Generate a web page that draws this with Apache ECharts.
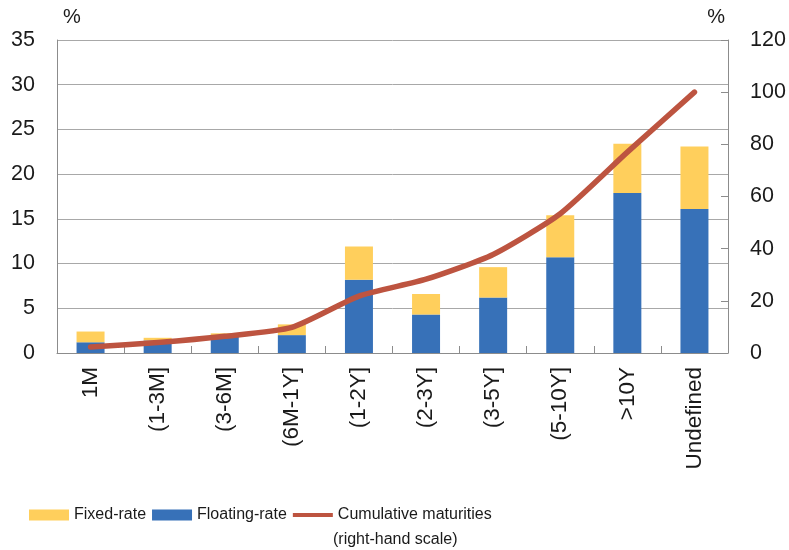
<!DOCTYPE html>
<html>
<head>
<meta charset="utf-8">
<script src="https://cdn.jsdelivr.net/npm/echarts@6/dist/echarts.min.js"></script>
<style>
  html, body { margin: 0; padding: 0; background: #ffffff; }
  #chart { width: 789px; height: 550px; }
</style>
</head>
<body>
<div id="chart"></div>
<script>
// Maturity buckets
const categories = ['1M', '(1-3M]', '(3-6M]', '(6M-1Y]', '(1-2Y]', '(2-3Y]', '(3-5Y]', '(5-10Y]', '>10Y', 'Undefined'];
// Share of total, % (left-hand scale)
const floatingRate = [1.2, 1.4, 1.9, 2.0, 8.2, 4.3, 6.2, 10.7, 17.9, 16.1];
const fixedRate = [1.2, 0.3, 0.3, 1.2, 3.7, 2.3, 3.4, 4.7, 5.5, 7.0];
// Cumulative maturities, % (right-hand scale)
const cumulative = [2.3, 4.0, 6.4, 9.8, 21.8, 28.3, 37.8, 53.4, 77.0, 100];
// Axis ranges
const leftTicks = { min: 0, max: 35, interval: 5 };
const rightTicks = { min: 0, max: 120, interval: 20 };

const FONT = '"Liberation Sans", Arial, sans-serif';
const TEXT = '#1a1a1a';
const AXIS = '#8c8c8c';
const GRID = '#a8a8a8';
const LINE_COLOR = '#bd5440';

const chart = echarts.init(document.getElementById('chart'), null, { renderer: 'canvas' });

chart.setOption({
  animation: false,
  backgroundColor: '#ffffff',
  textStyle: { fontFamily: FONT, color: TEXT },
  grid: { left: 57, right: 61, top: 40, bottom: 197, containLabel: false },
  legend: {
    left: 24,
    top: 502,
    itemWidth: 40,
    itemHeight: 11,
    itemGap: 6,
    textStyle: { fontFamily: FONT, fontSize: 16, color: TEXT },
    data: [
      { name: 'Fixed-rate', icon: 'rect' },
      { name: 'Floating-rate', icon: 'rect' },
      // thin bar standing in for the line swatch
      { name: 'Cumulative maturities', icon: 'path://M0,0 H40 V4 H0 Z', itemStyle: { color: LINE_COLOR } }
    ]
  },
  graphic: [
    {
      type: 'text',
      left: 333,
      top: 532,
      style: { text: '(right-hand scale)', font: '16px ' + FONT, fill: TEXT }
    }
  ],
  xAxis: {
    type: 'category',
    data: categories,
    boundaryGap: true,
    axisLine: { show: true, lineStyle: { color: AXIS, width: 1 } },
    axisTick: { show: true, inside: true, length: 7, alignWithLabel: false, lineStyle: { color: AXIS } },
    axisLabel: {
      rotate: 90,
      margin: 14,
      fontSize: 22.5,
      fontFamily: FONT,
      color: TEXT,
      interval: 0
    },
    splitLine: { show: false }
  },
  yAxis: [
    {
      type: 'value',
      position: 'left',
      min: leftTicks.min,
      max: leftTicks.max,
      interval: leftTicks.interval,
      name: '%',
      nameLocation: 'end',
      nameGap: 13,
      nameTextStyle: { fontFamily: FONT, fontSize: 20, color: TEXT, align: 'left', verticalAlign: 'bottom', padding: [0, 0, 0, 6] },
      axisLine: { show: true, lineStyle: { color: AXIS, width: 1 } },
      axisTick: { show: false },
      axisLabel: { margin: 22, fontSize: 21.5, fontFamily: FONT, color: TEXT },
      splitLine: { show: true, lineStyle: { color: GRID, width: 1 } }
    },
    {
      type: 'value',
      position: 'right',
      min: rightTicks.min,
      max: rightTicks.max,
      interval: rightTicks.interval,
      name: '%',
      nameLocation: 'end',
      nameGap: 13,
      nameTextStyle: { fontFamily: FONT, fontSize: 20, color: TEXT, align: 'right', verticalAlign: 'bottom', padding: [0, 3, 0, 0] },
      axisLine: { show: true, lineStyle: { color: AXIS, width: 1 } },
      axisTick: { show: true, inside: true, length: 7, lineStyle: { color: AXIS } },
      axisLabel: { margin: 22, fontSize: 21.5, fontFamily: FONT, color: TEXT },
      splitLine: { show: false }
    }
  ],
  series: [
    {
      name: 'Floating-rate',
      type: 'bar',
      stack: 'total',
      yAxisIndex: 0,
      barWidth: 28,
      itemStyle: { color: '#3771b8' },
      data: floatingRate
    },
    {
      name: 'Fixed-rate',
      type: 'bar',
      stack: 'total',
      yAxisIndex: 0,
      barWidth: 28,
      itemStyle: { color: '#ffcf5c' },
      data: fixedRate
    },
    {
      name: 'Cumulative maturities',
      type: 'line',
      yAxisIndex: 1,
      smooth: 0.2,
      symbol: 'none',
      lineStyle: { color: LINE_COLOR, width: 5.5, cap: 'round', join: 'round' },
      itemStyle: { color: LINE_COLOR },
      z: 5,
      data: cumulative
    }
  ]
});
</script>
</body>
</html>
